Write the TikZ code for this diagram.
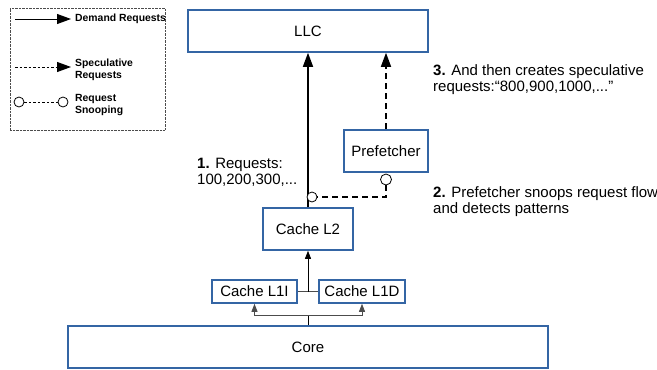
\documentclass[tikz,border=0pt]{standalone}
\usepackage{fontspec}
\setmainfont{Liberation Sans}
\definecolor{boxblue}{HTML}{3465A4}
\usetikzlibrary{arrows.meta,positioning}
\tikzset{
  unit_box/.style={draw=boxblue,line width=1.6pt,fill=white,inner sep=0pt,
    font=\fontsize{15}{17}\selectfont,align=center},
  note_text/.style={font=\fontsize{15}{16}\selectfont,align=left,anchor=west,inner sep=0pt},
  key_text/.style={font=\fontsize{10.4}{12.5}\selectfont\bfseries,align=left,anchor=west,inner sep=0pt},
  snoop_dot/.style={circle,draw,fill=white,line width=0.8pt,minimum size=11pt,inner sep=0pt},
  arr_big/.style={-{Triangle[length=14pt,width=10pt]},line width=1.6pt},
  arr_key/.style={-{Triangle[length=14pt,width=10pt]},line width=0.9pt},
  arr_small/.style={-{Triangle[length=8pt,width=6pt]},line width=0.8pt},
}
\begin{document}
\begin{tikzpicture}[x=1pt,y=-1pt]
  \useasboundingbox (0,0) rectangle (657,370);

  % legend
  \node[draw=black!70,densely dotted,minimum width=155pt,minimum height=122pt,inner sep=0pt] (legend) at (87.5,69) {};
  \coordinate (dem_a) at (15,19);
  \coordinate (dem_b) at (71,19);
  \coordinate (spec_a) at (15,67);
  \coordinate (spec_b) at (71,67);
  \draw[arr_key] (dem_a) -- (dem_b);
  \draw[arr_key,dash pattern=on 2.5pt off 2pt] (spec_a) -- (spec_b);
  \node[snoop_dot,minimum size=10pt] (key_snp_a) at (19,102) {};
  \node[snoop_dot,minimum size=10pt] (key_snp_b) at (63,102) {};
  \draw[dash pattern=on 2.5pt off 2pt,line width=0.9pt] (key_snp_a) -- (key_snp_b);
  \node[key_text] (key_dem) at (75,19) {Demand Requests};
  \node[key_text] (key_spec) at (75,70) {Speculative\\Requests};
  \node[key_text] (key_snp) at (75,105) {Request\\Snooping};

  % boxes
  \node[unit_box,minimum width=240pt,minimum height=42pt] (llc) at (308,31) {LLC};
  \node[unit_box,minimum width=84pt,minimum height=42pt] (pref) at (386,151) {Prefetcher};
  \node[unit_box,minimum width=90pt,minimum height=42pt] (l2) at (308,229) {Cache L2};
  \node[unit_box,minimum width=85pt,minimum height=23pt] (l1i) at (254.5,291.5) {Cache L1I};
  \node[unit_box,minimum width=86pt,minimum height=23pt] (l1d) at (362,291.5) {Cache L1D};
  \node[unit_box,minimum width=480pt,minimum height=42pt] (core) at (308,347) {Core};

  % requests
  \draw[arr_big] (l2.north) -- (llc.south);
  \draw[arr_big,dash pattern=on 6pt off 4pt] (pref.north) -- (pref.north |- llc.south);
  \draw[line width=0.8pt,black!70] (l1i.east) -- (l1d.west);
  \draw[arr_small] (l2.south |- l1i.east) -- (l2.south);
  \draw[line width=0.8pt] (core.north) -- ++(0,-10) coordinate (fork);
  \draw[arr_small,black!70] (fork) -| (l1i.south);
  \draw[arr_small,black!70] (fork) -| (l1d.south);

  % snooping
  \node[snoop_dot] (snp_pref) at (386,179.5) {};
  \node[snoop_dot,minimum size=10pt] (snp_l2) at (312,197) {};
  \draw[line width=1.6pt,dash pattern=on 6pt off 4pt] (snp_pref.south) |- (snp_l2.east);

  % notes
  \node[note_text] (note_one) at (197,172) {\textbf{1.} Requests:\\100,200,300,...};
  \node[note_text] (note_two) at (433,202) {\textbf{2.} Prefetcher snoops request flow\\and detects patterns};
  \node[note_text] (note_three) at (433,80) {\textbf{3.} And then creates speculative\\requests:“800,900,1000,...”};
\end{tikzpicture}
\end{document}
